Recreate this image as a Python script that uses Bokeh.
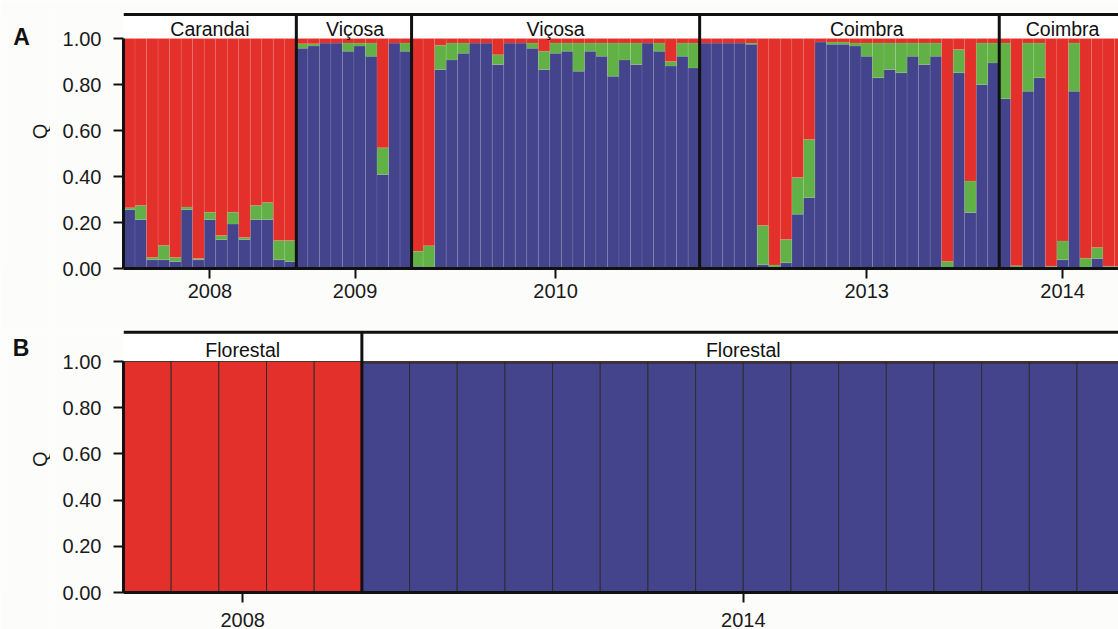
import math
from bokeh.plotting import figure
from bokeh.models import Range1d, FixedTicker, ColumnDataSource, PrintfTickFormatter
from bokeh.layouts import column, row
from bokeh.embed import file_html
from bokeh.resources import INLINE
from bokeh.core.properties import value

RED = "#E3302A"
BLUE = "#43448C"
GREEN = "#62B146"
FONT = "Liberation Sans"
BG = "#FCFCFA"

# ---------------- Panel A data (Q membership per individual) ----------------
carandai_2008_blue = [0.256, 0.213, 0.038, 0.038, 0.030, 0.256, 0.038, 0.213, 0.126, 0.193, 0.126, 0.213, 0.213, 0.038, 0.030]
carandai_2008_green = [0.008, 0.061, 0.010, 0.062, 0.018, 0.011, 0.005, 0.032, 0.017, 0.052, 0.009, 0.061, 0.074, 0.084, 0.092]

vicosa_2009_blue = [0.958, 0.967, 0.980, 0.980, 0.945, 0.967, 0.923, 0.409, 0.980, 0.945]
vicosa_2009_green = [0.019, 0.010, 0.000, 0.000, 0.035, 0.013, 0.057, 0.116, 0.000, 0.035]

vicosa_2010_blue = [0.010, 0.000, 0.865, 0.907, 0.936, 0.980, 0.980, 0.887, 0.980, 0.980, 0.958, 0.865, 0.936,
                    0.945, 0.858, 0.945, 0.923, 0.836, 0.907, 0.887, 0.980, 0.945, 0.880, 0.923, 0.872]
vicosa_2010_green = [0.065, 0.099, 0.106, 0.073, 0.044, 0.000, 0.000, 0.042, 0.000, 0.000, 0.022, 0.080, 0.044,
                     0.035, 0.122, 0.035, 0.057, 0.144, 0.073, 0.093, 0.000, 0.035, 0.020, 0.057, 0.108]

coimbra_2013_blue = [0.980, 0.980, 0.980, 0.980, 0.975, 0.017, 0.005, 0.025, 0.236, 0.309, 0.985, 0.975, 0.975,
                     0.967, 0.923, 0.829, 0.865, 0.851, 0.923, 0.887, 0.923, 0.000, 0.851, 0.243, 0.800, 0.894]
coimbra_2013_green = [0.000, 0.000, 0.000, 0.000, 0.005, 0.170, 0.010, 0.101, 0.160, 0.252, 0.000, 0.010, 0.010,
                      0.013, 0.057, 0.151, 0.115, 0.129, 0.057, 0.093, 0.057, 0.030, 0.101, 0.137, 0.180, 0.086]

coimbra_2014_blue = [0.738, 0.000, 0.771, 0.829, 0.000, 0.038, 0.771, 0.005, 0.043, 0.000, 0.000]
coimbra_2014_green = [0.242, 0.012, 0.209, 0.151, 0.010, 0.082, 0.209, 0.040, 0.048, 0.010, 0.010]

a_sites = ["Carandai", "Viçosa", "Viçosa", "Coimbra", "Coimbra"]
a_years = ["2008", "2009", "2010", "2013", "2014"]
a_centers = [7.5, 20.1, 37.5, 64.5, 81.5]

# ---------------- Panel B data ----------------
florestal_2008_blue = [0.0, 0.0, 0.0, 0.0, 0.0]
florestal_2008_green = [0.0, 0.0, 0.0, 0.0, 0.0]
florestal_2014_blue = [0.995] * 16
florestal_2014_green = [0.0] * 16

b_sites = ["Florestal", "Florestal"]
b_years = ["2008", "2014"]
b_centers = [2.5, 13.0]

y_label = "Q"

a_groups = [(carandai_2008_blue, carandai_2008_green), (vicosa_2009_blue, vicosa_2009_green),
            (vicosa_2010_blue, vicosa_2010_green), (coimbra_2013_blue, coimbra_2013_green),
            (coimbra_2014_blue, coimbra_2014_green)]
b_groups = [(florestal_2008_blue, florestal_2008_green), (florestal_2014_blue, florestal_2014_green)]

SIDE_W = 50


def build_source(groups):
    blue, green, bounds = [], [], []
    for b, g in groups:
        blue += b
        green += g
        bounds.append(len(blue))
    red = [max(0.0, 1.0 - bb - gg) for bb, gg in zip(blue, green)]
    x = [i + 0.5 for i in range(len(blue))]
    return ColumnDataSource(dict(x=x, blue=blue, green=green, red=red)), bounds[:-1]


def side_fig(letter, height, lx, ly, qy):
    """Left strip holding the panel letter and the rotated Q axis title (y measured from top)."""
    f = figure(width=SIDE_W, height=height, output_backend="svg", toolbar_location=None,
               x_range=Range1d(0, SIDE_W), y_range=Range1d(height, 0),
               min_border=0, min_border_left=0, min_border_right=0, min_border_top=0, min_border_bottom=0)
    f.axis.visible = False
    f.grid.grid_line_color = None
    f.outline_line_color = None
    f.background_fill_color = BG
    f.border_fill_color = BG
    f.text(x=[lx], y=[ly], text=[letter], text_align="center", text_baseline="middle",
           text_font=value(FONT), text_font_size="23px", text_font_style="bold", text_color="#111111")
    f.text(x=[39], y=[qy], text=[y_label], angle=math.pi / 2, text_align="center", text_baseline="middle",
           text_font=value(FONT), text_font_size="20px", text_color="#1a1a1a")
    return f


def make_panel(groups, sites, years, centers, x_end, y_end, top_line, label_y,
               height, mb_top, mb_bottom, sep_color, sep_alpha, tick_out, standoff):
    src, bounds = build_source(groups)
    p = figure(width=1118 - SIDE_W, height=height, output_backend="svg", toolbar_location=None,
               x_range=Range1d(0, x_end), y_range=Range1d(0, y_end),
               min_border_left=123 - SIDE_W, min_border_right=0, min_border_top=mb_top, min_border_bottom=mb_bottom)
    p.background_fill_color = "white"
    p.border_fill_color = BG
    p.outline_line_color = None
    p.grid.grid_line_color = None

    p.vbar_stack(["blue", "green", "red"], x="x", width=1.0, source=src,
                 fill_color=[BLUE, GREEN, RED], line_color=sep_color, line_alpha=sep_alpha, line_width=1)

    # frame structure: top line and group separators
    p.segment(x0=[0], y0=[top_line], x1=[x_end + 5], y1=[top_line], line_color="#111111", line_width=3)
    p.segment(x0=bounds, y0=[0] * len(bounds), x1=bounds, y1=[top_line] * len(bounds),
              line_color="#111111", line_width=3)

    p.text(x=centers, y=[label_y] * len(centers), text=sites, text_align="center", text_baseline="middle",
           text_font=value(FONT), text_font_size="19.5px", text_color="#111111")

    # axes
    p.yaxis.ticker = FixedTicker(ticks=[0.0, 0.2, 0.4, 0.6, 0.8, 1.0])
    p.yaxis.formatter = PrintfTickFormatter(format="%.2f")
    p.yaxis.bounds = (0, 1)
    p.yaxis.major_label_standoff = 12

    p.xaxis.ticker = FixedTicker(ticks=centers)
    p.xaxis.major_label_overrides = {c: y for c, y in zip(centers, years)}
    p.xaxis.major_label_standoff = standoff

    for ax in (p.xaxis, p.yaxis):
        ax.axis_line_color = "#111111"
        ax.axis_line_width = 3
        ax.major_tick_line_color = "#111111"
        ax.major_tick_line_width = 2
        ax.major_tick_in = 0
        ax.minor_tick_line_color = None
        ax.major_label_text_font = FONT
        ax.major_label_text_font_size = "20px"
        ax.major_label_text_color = "#1a1a1a"
    p.yaxis.major_tick_out = 10
    p.xaxis.major_tick_out = tick_out
    return p


# Panel A: frame 12..268 px, 230 px per unit Q, bar width ~11.52 px
pA = make_panel(a_groups, a_sites, a_years, a_centers,
                x_end=86.35, y_end=256 / 230, top_line=1.104, label_y=1.043,
                height=329, mb_top=12, mb_bottom=61, sep_color="white", sep_alpha=0.08,
                tick_out=10, standoff=5)
SA = side_fig("A", 329, 21, 31, 153)

# Panel B: frame 329..592 px, 231 px per unit Q, bar width ~47.67 px
pB = make_panel(b_groups, b_sites, b_years, b_centers,
                x_end=20.87, y_end=263 / 231, top_line=1.127, label_y=1.048,
                height=300, mb_top=0, mb_bottom=37, sep_color="#2a2a2a", sep_alpha=0.9,
                tick_out=10, standoff=10)
SB = side_fig("B", 300, 20.5, 21, 148)

layout = column(row(SA, pA, spacing=0), row(SB, pB, spacing=0), spacing=0)
open("out.html", "w").write(file_html(layout, INLINE))
